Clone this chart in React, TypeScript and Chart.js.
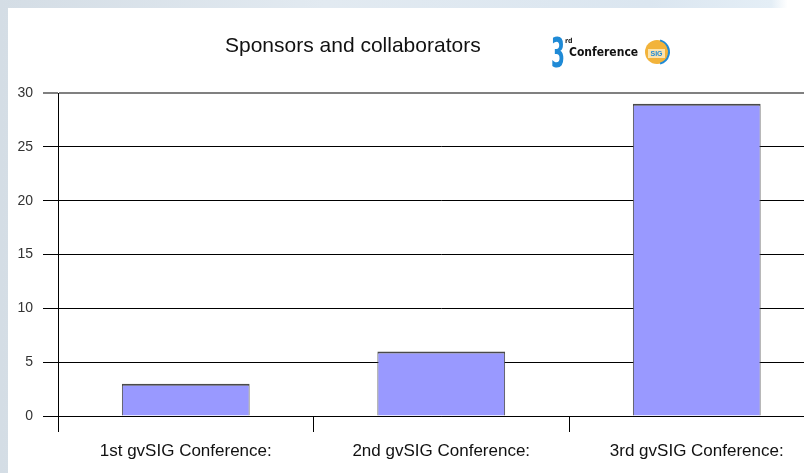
import React, { useEffect, useRef } from "react";
import { Chart, registerables } from "chart.js";

Chart.register(...registerables);

const TITLE = "Sponsors and collaborators";
const categories = ["1st gvSIG Conference:", "2nd gvSIG Conference:", "3rd gvSIG Conference:"];
const sponsors = [3, 6, 29];
const Y_MIN = 0;
const Y_MAX = 30;
const Y_STEP = 5;
const LOGO_NUM = "3";
const LOGO_SUP = "rd";
const LOGO_WORD = "Conference";
const LOGO_BADGE = "SIG";

const FONT = "'Liberation Sans', Arial, sans-serif";

const titlePlugin = {
  id: "titleLogo",
  afterDraw(chart: any) {
    const ctx = chart.ctx as CanvasRenderingContext2D;
    ctx.save();
    // title
    ctx.fillStyle = "#111111";
    ctx.font = `21px ${FONT}`;
    ctx.textAlign = "left";
    ctx.textBaseline = "alphabetic";
    ctx.fillText(TITLE, 217, 44);

    // logo: tall narrow "3"
    ctx.save();
    ctx.translate(543, 59);
    ctx.scale(0.5, 1);
    ctx.fillStyle = "#1f8ad6";
    ctx.font = `bold 40px 'DejaVu Sans', sans-serif`;
    ctx.fillText(LOGO_NUM, 0, 0);
    ctx.restore();
    ctx.fillStyle = "#222222";
    ctx.font = `bold 7px 'DejaVu Sans Condensed', sans-serif`;
    ctx.fillText(LOGO_SUP, 557, 35);
    ctx.font = `bold 12px 'DejaVu Sans Condensed', 'DejaVu Sans', sans-serif`;
    ctx.fillStyle = "#111111";
    ctx.fillText(LOGO_WORD, 561, 48);
    // badge
    ctx.beginPath();
    ctx.arc(649, 44, 12, 0, Math.PI * 2);
    ctx.fillStyle = "#f2b33a";
    ctx.fill();
    ctx.beginPath();
    ctx.arc(649, 44, 12, -Math.PI / 2.4, Math.PI / 2.4);
    ctx.strokeStyle = "#1f8ad6";
    ctx.lineWidth = 2;
    ctx.stroke();
    ctx.fillStyle = "#fbe3ad";
    ctx.fillRect(640, 41, 17, 9);
    ctx.fillStyle = "#1f8ad6";
    ctx.font = `bold 7px ${FONT}`;
    ctx.textAlign = "center";
    ctx.fillText(LOGO_BADGE, 648.5, 48);
    ctx.restore();
  },
};

export default function App() {
  const ref = useRef<HTMLCanvasElement | null>(null);

  useEffect(() => {
    document.documentElement.style.overflow = "hidden";
    document.body.style.overflow = "hidden";
    document.body.style.background =
      "linear-gradient(90deg, #d4dde5 0%, #e2eaf1 40%, #dbe6f0 80%, #e4eef6 95%, #ffffff 97%)";
    const canvas = ref.current!;
    const chart = new Chart(canvas, {
      type: "bar",
      data: {
        labels: categories,
        datasets: [
          {
            data: sponsors,
            backgroundColor: "#9999ff",
            borderColor: "#4a4a4a",
            borderWidth: { top: 2, left: 1, right: 1, bottom: 0 },
            borderSkipped: "start",
            barPercentage: 0.5,
            categoryPercentage: 1,
          },
        ],
      },
      options: {
        animation: false,
        responsive: false,
        devicePixelRatio: 1,
        layout: { padding: { top: 85, right: 3.5, bottom: 0, left: 0 } },
        plugins: {
          legend: { display: false },
          title: { display: false },
          tooltip: { enabled: false },
        },
        scales: {
          x: {
            grid: {
              offset: true,
              drawOnChartArea: false,
              drawTicks: true,
              tickLength: 16,
              color: "#000000",
              lineWidth: 1,
            },
            border: { display: true, color: "#000000", width: 1 },
            ticks: {
              color: "#111111",
              font: { family: FONT, size: 17 },
              padding: 9,
              maxRotation: 0,
              autoSkip: false,
            },
            afterFit: (s: any) => {
              s.height = 57;
            },
          },
          y: {
            min: Y_MIN,
            max: Y_MAX,
            grid: {
              color: (c: any) => (c.tick && c.tick.value === Y_MAX ? "#808080" : "#000000"),
              lineWidth: (c: any) => (c.tick && c.tick.value === Y_MAX ? 2 : 1),
              tickLength: 15,
              drawTicks: true,
            },
            border: { display: true, color: "#000000", width: 1 },
            ticks: {
              stepSize: Y_STEP,
              color: "#333333",
              font: { family: FONT, size: 14 },
              padding: 10,
            },
            afterFit: (s: any) => {
              s.width = 50;
            },
          },
        },
      },
      plugins: [titlePlugin],
    });
    return () => chart.destroy();
  }, []);

  return (
    <div style={{ background: "#ffffff", height: 465, overflow: "hidden" }}>
      <canvas
        ref={ref}
        width={820}
        height={465}
        style={{ display: "block", width: 820, height: 465 }}
      />
    </div>
  );
}
